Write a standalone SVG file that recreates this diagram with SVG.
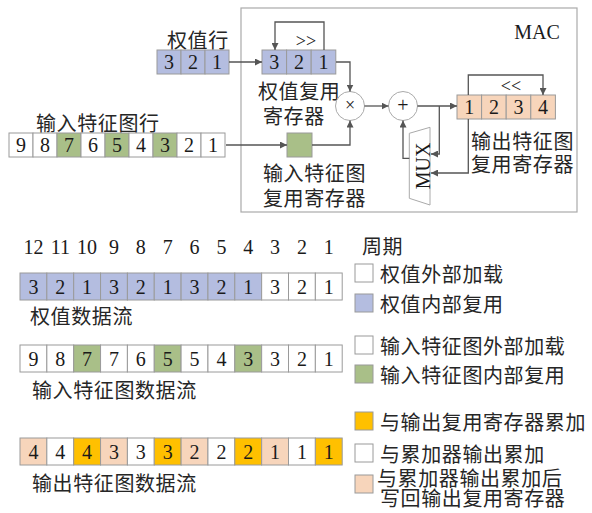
<svg xmlns="http://www.w3.org/2000/svg" width="592" height="513" viewBox="0 0 592 513">
<style>
.cjk{font-family:"Noto Sans CJK SC","Noto Sans",sans-serif;font-size:20px;letter-spacing:0.6px;fill:#262626;dominant-baseline:central}
.num{font-family:"Liberation Serif","Times New Roman",serif;font-size:20px;fill:#1a1a1a;text-anchor:middle;dominant-baseline:central}
.cell{stroke:#9a9a9a;stroke-width:1}
.w{fill:#b4bde0}.g{fill:#a9bf88}.p{fill:#f7d5bb}.o{fill:#ffc000}.e{fill:#ffffff}
.arr{fill:none;stroke:#555;stroke-width:1.3;marker-end:url(#ah)}
</style>
<defs>
<marker id="ah" viewBox="0 0 10 10" refX="10" refY="5" markerWidth="7" markerHeight="7" markerUnits="userSpaceOnUse" orient="auto">
<path d="M0,0 L10,5 L0,10 z" fill="#555"/>
</marker>
</defs>
<rect width="592" height="513" fill="#ffffff"/>

<g id="mac-box">
<rect x="241" y="8" width="336" height="204" fill="none" stroke="#aaaaaa" stroke-width="1.2"/>
<text x="537" y="32" class="num">MAC</text>
</g>

<g id="weight-row">
<text x="167" y="39" class="cjk">权值行</text>
<rect x="157" y="50" width="24" height="24" class="cell w"/>
<rect x="181" y="50" width="24" height="24" class="cell w"/>
<rect x="205" y="50" width="24" height="24" class="cell w"/>
<text x="169" y="62" class="num">3</text>
<text x="193" y="62" class="num">2</text>
<text x="217" y="62" class="num">1</text>
</g>

<g id="input-row">
<text x="36" y="122" class="cjk">输入特征图行</text>
<rect x="9" y="133" width="24" height="24" class="cell e"/>
<rect x="33" y="133" width="24" height="24" class="cell e"/>
<rect x="57" y="133" width="24" height="24" class="cell g"/>
<rect x="81" y="133" width="24" height="24" class="cell e"/>
<rect x="105" y="133" width="24" height="24" class="cell g"/>
<rect x="129" y="133" width="24" height="24" class="cell e"/>
<rect x="153" y="133" width="24" height="24" class="cell g"/>
<rect x="177" y="133" width="24" height="24" class="cell e"/>
<rect x="201" y="133" width="24" height="24" class="cell e"/>
<text x="21" y="145" class="num">9</text>
<text x="45" y="145" class="num">8</text>
<text x="69" y="145" class="num">7</text>
<text x="93" y="145" class="num">6</text>
<text x="117" y="145" class="num">5</text>
<text x="141" y="145" class="num">4</text>
<text x="165" y="145" class="num">3</text>
<text x="189" y="145" class="num">2</text>
<text x="213" y="145" class="num">1</text>
</g>

<g id="weight-reg">
<rect x="262" y="50" width="24.6" height="24" class="cell w"/>
<rect x="286.6" y="50" width="24.6" height="24" class="cell w"/>
<rect x="311.2" y="50" width="24.6" height="24" class="cell w"/>
<text x="274.3" y="62" class="num">3</text>
<text x="298.9" y="62" class="num">2</text>
<text x="323.5" y="62" class="num">1</text>
<text x="306" y="41" class="num" style="font-size:18px">&gt;&gt;</text>
<text x="258" y="90" class="cjk">权值复用</text>
<text x="263" y="115" class="cjk">寄存器</text>
</g>

<g id="input-reg">
<rect x="287" y="133" width="25" height="24" class="cell g"/>
<text x="263" y="172" class="cjk">输入特征图</text>
<text x="263" y="197" class="cjk">复用寄存器</text>
</g>

<g id="multiplier">
<circle cx="350" cy="106" r="14.5" fill="#fff" stroke="#aaa" stroke-width="1"/>
<text x="350" y="105" class="num" style="font-size:18px">×</text>
</g>

<g id="adder">
<circle cx="403" cy="106" r="14.5" fill="#fff" stroke="#aaa" stroke-width="1"/>
<text x="403" y="105" class="num">+</text>
</g>

<g id="mux">
<polygon points="409.3,133.3 430,127.3 430,205 409.3,198.3" fill="#fff" stroke="#aaa" stroke-width="1"/>
<text x="0" y="0" class="num" transform="translate(422.5,166) rotate(-90)">MUX</text>
</g>

<g id="output-reg">
<rect x="457" y="95" width="24.6" height="24" class="cell p"/>
<rect x="481.6" y="95" width="24.6" height="24" class="cell p"/>
<rect x="506.2" y="95" width="24.6" height="24" class="cell p"/>
<rect x="530.8" y="95" width="24.6" height="24" class="cell p"/>
<text x="469.3" y="107" class="num">1</text>
<text x="493.9" y="107" class="num">2</text>
<text x="518.5" y="107" class="num">3</text>
<text x="543.1" y="107" class="num">4</text>
<text x="511" y="86" class="num" style="font-size:18px">&lt;&lt;</text>
<text x="471" y="140" class="cjk">输出特征图</text>
<text x="471" y="163" class="cjk">复用寄存器</text>
</g>

<g id="connectors">
<path d="M229,62 H262" class="arr"/>
<path d="M324,50 V22 H275 V50" class="arr"/>
<path d="M336,62 H350 V91.5" class="arr"/>
<path d="M226,145 H287" class="arr"/>
<path d="M312,145 H350 V120.5" class="arr"/>
<path d="M364.5,106 H388.5" class="arr"/>
<path d="M417.5,106 H457" class="arr"/>
<path d="M439.3,106 V154 H431" class="arr"/>
<path d="M468.3,119 V173 H431" class="arr"/>
<path d="M409.3,158.3 H403 V120.5" class="arr"/>
<path d="M468.3,95 V75 H543 V95" class="arr"/>
</g>

<g id="cycles">
<text x="33.4" y="247" class="num">12</text>
<text x="60.3" y="247" class="num">11</text>
<text x="87.1" y="247" class="num">10</text>
<text x="114" y="247" class="num">9</text>
<text x="140.8" y="247" class="num">8</text>
<text x="167.7" y="247" class="num">7</text>
<text x="194.5" y="247" class="num">6</text>
<text x="221.4" y="247" class="num">5</text>
<text x="248.2" y="247" class="num">4</text>
<text x="275.1" y="247" class="num">3</text>
<text x="301.9" y="247" class="num">2</text>
<text x="328.8" y="247" class="num">1</text>
</g>

<g id="weight-flow">
<rect x="20" y="273" width="26.85" height="27" class="cell w"/>
<rect x="46.85" y="273" width="26.85" height="27" class="cell w"/>
<rect x="73.7" y="273" width="26.85" height="27" class="cell w"/>
<rect x="100.55" y="273" width="26.85" height="27" class="cell w"/>
<rect x="127.4" y="273" width="26.85" height="27" class="cell w"/>
<rect x="154.25" y="273" width="26.85" height="27" class="cell w"/>
<rect x="181.1" y="273" width="26.85" height="27" class="cell w"/>
<rect x="207.95" y="273" width="26.85" height="27" class="cell w"/>
<rect x="234.8" y="273" width="26.85" height="27" class="cell w"/>
<rect x="261.65" y="273" width="26.85" height="27" class="cell e"/>
<rect x="288.5" y="273" width="26.85" height="27" class="cell e"/>
<rect x="315.35" y="273" width="26.85" height="27" class="cell e"/>
<text x="33.4" y="286.5" class="num">3</text>
<text x="60.3" y="286.5" class="num">2</text>
<text x="87.1" y="286.5" class="num">1</text>
<text x="114" y="286.5" class="num">3</text>
<text x="140.8" y="286.5" class="num">2</text>
<text x="167.7" y="286.5" class="num">1</text>
<text x="194.5" y="286.5" class="num">3</text>
<text x="221.4" y="286.5" class="num">2</text>
<text x="248.2" y="286.5" class="num">1</text>
<text x="275.1" y="286.5" class="num">3</text>
<text x="301.9" y="286.5" class="num">2</text>
<text x="328.8" y="286.5" class="num">1</text>
<text x="30" y="315" class="cjk">权值数据流</text>
</g>

<g id="input-flow">
<rect x="20" y="345" width="26.85" height="27" class="cell e"/>
<rect x="46.85" y="345" width="26.85" height="27" class="cell e"/>
<rect x="73.7" y="345" width="26.85" height="27" class="cell g"/>
<rect x="100.55" y="345" width="26.85" height="27" class="cell e"/>
<rect x="127.4" y="345" width="26.85" height="27" class="cell e"/>
<rect x="154.25" y="345" width="26.85" height="27" class="cell g"/>
<rect x="181.1" y="345" width="26.85" height="27" class="cell e"/>
<rect x="207.95" y="345" width="26.85" height="27" class="cell e"/>
<rect x="234.8" y="345" width="26.85" height="27" class="cell g"/>
<rect x="261.65" y="345" width="26.85" height="27" class="cell e"/>
<rect x="288.5" y="345" width="26.85" height="27" class="cell e"/>
<rect x="315.35" y="345" width="26.85" height="27" class="cell e"/>
<text x="33.4" y="358.5" class="num">9</text>
<text x="60.3" y="358.5" class="num">8</text>
<text x="87.1" y="358.5" class="num">7</text>
<text x="114" y="358.5" class="num">7</text>
<text x="140.8" y="358.5" class="num">6</text>
<text x="167.7" y="358.5" class="num">5</text>
<text x="194.5" y="358.5" class="num">5</text>
<text x="221.4" y="358.5" class="num">4</text>
<text x="248.2" y="358.5" class="num">3</text>
<text x="275.1" y="358.5" class="num">3</text>
<text x="301.9" y="358.5" class="num">2</text>
<text x="328.8" y="358.5" class="num">1</text>
<text x="32" y="389" class="cjk">输入特征图数据流</text>
</g>

<g id="output-flow">
<rect x="20" y="438" width="26.85" height="27" class="cell p"/>
<rect x="46.85" y="438" width="26.85" height="27" class="cell e"/>
<rect x="73.7" y="438" width="26.85" height="27" class="cell o"/>
<rect x="100.55" y="438" width="26.85" height="27" class="cell p"/>
<rect x="127.4" y="438" width="26.85" height="27" class="cell e"/>
<rect x="154.25" y="438" width="26.85" height="27" class="cell o"/>
<rect x="181.1" y="438" width="26.85" height="27" class="cell p"/>
<rect x="207.95" y="438" width="26.85" height="27" class="cell e"/>
<rect x="234.8" y="438" width="26.85" height="27" class="cell o"/>
<rect x="261.65" y="438" width="26.85" height="27" class="cell p"/>
<rect x="288.5" y="438" width="26.85" height="27" class="cell e"/>
<rect x="315.35" y="438" width="26.85" height="27" class="cell o"/>
<text x="33.4" y="451.5" class="num">4</text>
<text x="60.3" y="451.5" class="num">4</text>
<text x="87.1" y="451.5" class="num">4</text>
<text x="114" y="451.5" class="num">3</text>
<text x="140.8" y="451.5" class="num">3</text>
<text x="167.7" y="451.5" class="num">3</text>
<text x="194.5" y="451.5" class="num">2</text>
<text x="221.4" y="451.5" class="num">2</text>
<text x="248.2" y="451.5" class="num">2</text>
<text x="275.1" y="451.5" class="num">1</text>
<text x="301.9" y="451.5" class="num">1</text>
<text x="328.8" y="451.5" class="num">1</text>
<text x="32" y="482" class="cjk">输出特征图数据流</text>
</g>

<g id="legend">
<text x="362" y="245" class="cjk">周期</text>
<rect x="355" y="264" width="18" height="18" class="cell e"/>
<text x="380" y="273" class="cjk">权值外部加载</text>
<rect x="355" y="294" width="18" height="18" class="cell w"/>
<text x="380" y="303" class="cjk">权值内部复用</text>
<rect x="355" y="336" width="18" height="18" class="cell e"/>
<text x="380" y="345" class="cjk">输入特征图外部加载</text>
<rect x="355" y="365" width="18" height="18" class="cell g"/>
<text x="380" y="374" class="cjk">输入特征图内部复用</text>
<rect x="355" y="412" width="18" height="18" class="cell o"/>
<text x="380" y="421.5" class="cjk">与输出复用寄存器累加</text>
<rect x="355" y="444" width="18" height="18" class="cell e"/>
<text x="380" y="453" class="cjk">与累加器输出累加</text>
<rect x="355" y="475" width="18" height="18" class="cell p"/>
<text x="377" y="477" class="cjk">与累加器输出累加后</text>
<text x="380" y="497" class="cjk">写回输出复用寄存器</text>
</g>
</svg>
